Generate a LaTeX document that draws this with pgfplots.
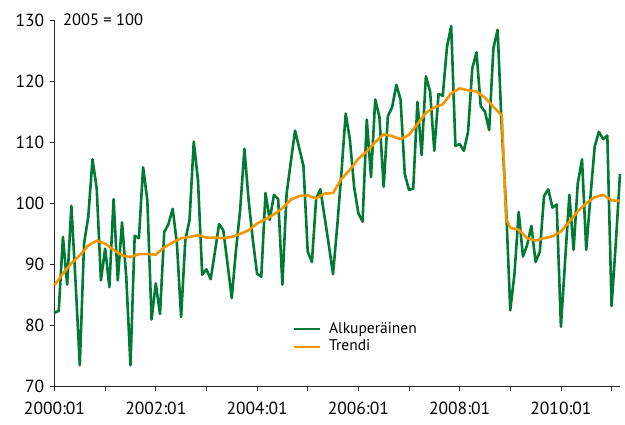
\documentclass[border=0pt]{standalone}
\usepackage{fontspec}
\setmainfont{PT Sans}
\usepackage{pgfplots}
\pgfplotsset{compat=1.18}
\definecolor{grn}{RGB}{0,122,52}
\definecolor{org}{RGB}{245,150,0}
\begin{document}
\fontsize{17}{20}\selectfont
\begin{tikzpicture}
\path[use as bounding box] (0pt,0pt) rectangle (625pt,425pt);
\begin{axis}[
  at={(54.5pt,38.3pt)}, anchor=south west,
  scale only axis, width=565.5pt, height=366.7pt,
  xmin=0, xmax=134, ymin=70, ymax=130,
  axis x line*=bottom, axis y line*=left,
  axis line style={-, line width=0.8pt, black!85},
  tick align=outside,
  major tick length=4.5pt,
  tick style={line width=0.8pt, black!85},
  xtick={0,12,...,132},
  xticklabels={2000:01,,2002:01,,2004:01,,2006:01,,2008:01,,2010:01,},
  ytick={70,80,...,130},
  ticklabel style={font=\fontsize{17.5}{20}\selectfont},
  xticklabel style={yshift=-5pt},
  /pgf/number format/assume math mode=true,
  legend style={draw=none, fill=none, at={(0.4164,0.1873)}, anchor=north west,
    font=\fontsize{15.5}{19}\selectfont, legend cell align=left},
  legend image code/.code={\draw[#1, line width=2pt] (0pt,0pt) -- (26pt,0pt);},
  clip=false,
]
\addplot[grn, line width=2.6pt, line join=round] coordinates {
(0,82.1)(1,82.4)(2,94.5)(3,86.7)(4,99.6)(5,87.0)(6,73.5)(7,93.4)(8,97.8)(9,107.2)
(10,102.5)(11,87.4)(12,92.6)(13,86.3)(14,100.7)(15,87.4)(16,96.9)(17,88.0)(18,73.5)(19,94.7)
(20,94.3)(21,105.9)(22,100.5)(23,81.0)(24,86.9)(25,81.9)(26,95.3)(27,96.6)(28,99.1)(29,93.5)
(30,81.4)(31,94.0)(32,97.3)(33,110.1)(34,103.8)(35,88.3)(36,89.2)(37,87.6)(38,92.0)(39,96.6)
(40,95.6)(41,90.1)(42,84.5)(43,92.3)(44,99.0)(45,108.9)(46,100.5)(47,94.0)(48,88.5)(49,88.0)
(50,101.7)(51,97.3)(52,101.4)(53,100.7)(54,86.7)(55,101.6)(56,106.8)(57,111.9)(58,109.0)(59,106.1)
(60,92.1)(61,90.4)(62,100.8)(63,102.3)(64,97.8)(65,93.2)(66,88.4)(67,96.3)(68,105.1)(69,114.7)
(70,110.4)(71,102.7)(72,98.4)(73,97.0)(74,113.7)(75,104.3)(76,117.0)(77,114.1)(78,102.7)(79,114.3)
(80,115.7)(81,119.4)(82,117.0)(83,104.8)(84,102.2)(85,102.4)(86,116.6)(87,107.9)(88,120.8)(89,118.3)
(90,108.6)(91,117.9)(92,117.6)(93,125.6)(94,129.0)(95,109.4)(96,109.7)(97,108.6)(98,111.7)(99,122.1)
(100,124.7)(101,115.9)(102,115.0)(103,112.0)(104,125.4)(105,128.4)(106,112.0)(107,99.5)(108,82.5)(109,88.5)
(110,98.6)(111,91.3)(112,93.2)(113,96.3)(114,90.4)(115,92.1)(116,101.2)(117,102.3)(118,99.3)(119,99.8)
(120,79.8)(121,90.7)(122,101.4)(123,92.4)(124,103.3)(125,107.2)(126,92.4)(127,101.1)(128,109.3)(129,111.7)
(130,110.5)(131,111.1)(132,83.2)(133,93.4)(134,104.8)
};
\addlegendentry{\hspace{6pt}Alkuperäinen}
\addplot[org, line width=2.6pt, line join=round] coordinates {
(0,86.6)(2,88.5)(4,90.2)(6,91.5)(8,93.1)(10,93.9)(12,93.4)(14,92.4)(16,91.5)(18,91.2)
(20,91.7)(22,91.7)(24,91.6)(26,92.8)(28,93.6)(30,94.3)(32,94.5)(34,94.8)(36,94.4)(38,94.4)
(40,94.3)(42,94.5)(44,95.0)(46,95.6)(48,96.7)(50,97.4)(52,98.2)(54,99.2)(56,100.6)(58,101.2)
(60,101.3)(62,100.8)(64,101.6)(66,101.7)(68,104.0)(70,105.5)(72,107.3)(74,108.5)(76,110.0)(78,111.3)
(80,111.0)(82,110.5)(84,111.2)(86,113.0)(88,114.8)(90,115.7)(92,116.2)(94,118.0)(96,118.8)(98,118.5)
(100,118.3)(102,117.3)(104,115.8)(106,114.4)(107,97.5)(108,96.0)(110,95.7)(112,94.3)(114,93.9)(116,94.3)
(118,94.6)(120,95.4)(122,97.0)(124,98.7)(126,100.0)(128,101.0)(130,101.4)(132,100.5)(134,100.4)
};
\addlegendentry{\hspace{6pt}Trendi}
\node[anchor=west, font=\fontsize{16.5}{19}\selectfont, inner sep=0pt] at (axis cs:2,130) {2005 = 100};
\end{axis}
\end{tikzpicture}
\end{document}
